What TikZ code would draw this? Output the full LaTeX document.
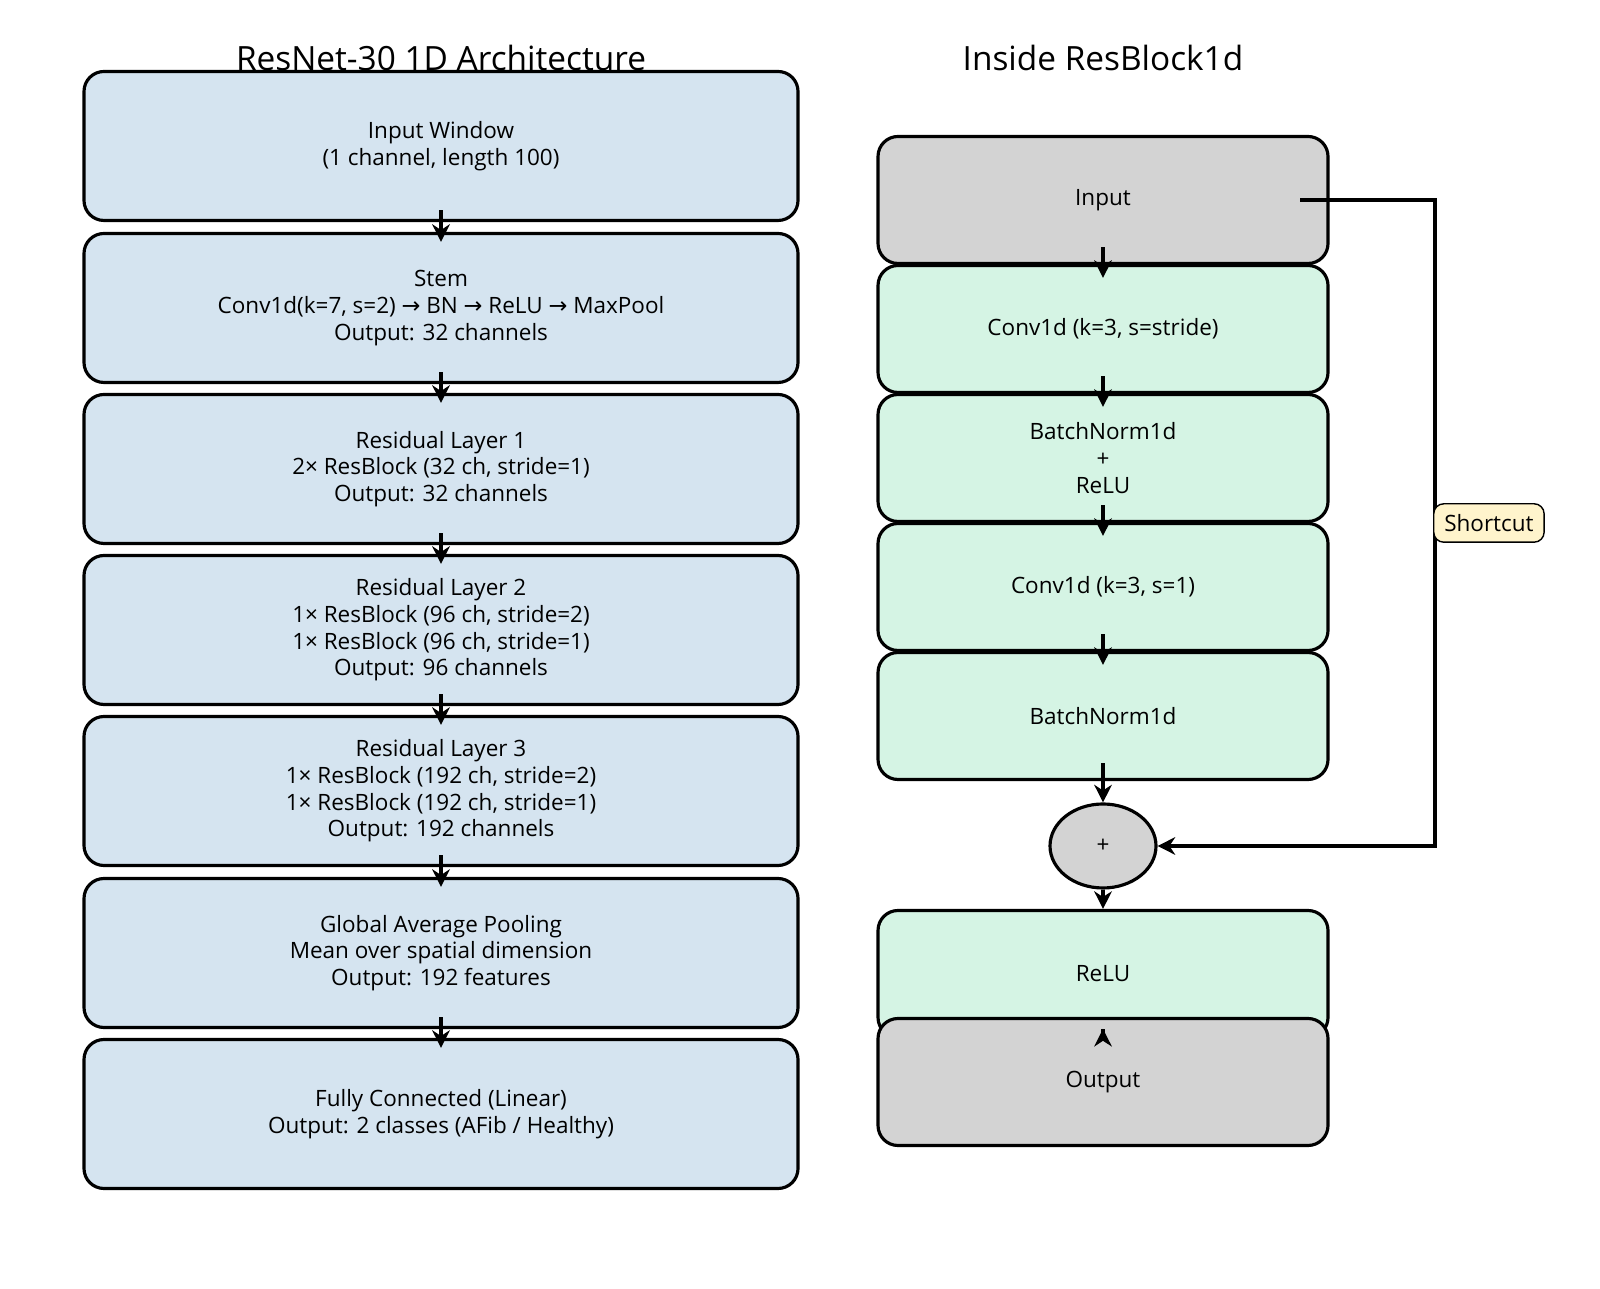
\documentclass[tikz,border=0pt]{standalone}
\usepackage{fontspec}
\setmainfont{Open Sans}
\newfontfamily\symfont{DejaVu Sans}
\usetikzlibrary{arrows.meta,shapes.geometric}
\newcommand{\ar}{{\symfont →}}
\tikzset{
  blk/.style={draw, line width=0.9pt, rounded corners=0.2cm, align=center,
    font=\fontsize{6.4}{7.6}\selectfont},
  arch/.style={blk, fill=archblue, minimum width=7.14cm, minimum height=1.49cm},
  inner/.style={blk, fill=resgreen, minimum width=4.5cm, minimum height=1.27cm},
  io/.style={inner, fill=iogray},
  flow/.style={-{Stealth[length=5pt,width=5pt]}, line width=0.9pt},
  ttl/.style={font=\fontsize{9.5}{11}\selectfont}
}
\definecolor{archblue}{HTML}{D5E4F0}
\definecolor{resgreen}{HTML}{D5F4E4}
\definecolor{iogray}{HTML}{D3D3D3}
\definecolor{notey}{HTML}{FFF4CC}
\begin{document}
\begin{tikzpicture}
  \useasboundingbox (0,0) rectangle (16,12.88);
  % titles
  \node[ttl] (t1) at (4.41,12.30) {ResNet-30 1D Architecture};
  \node[ttl] (t2) at (11.03,12.30) {Inside ResBlock1d};

  % left column
  \node[arch] (inp) at (4.41,11.42) {Input Window\\(1 channel, length 100)};
  \node[arch] (stem) at (4.41,9.80) {Stem\\Conv1d(k=7, s=2) \ar{} BN \ar{} ReLU \ar{} MaxPool\\Output: 32 channels};
  \node[arch] (l1) at (4.41,8.19) {Residual Layer 1\\2× ResBlock (32 ch, stride=1)\\Output: 32 channels};
  \node[arch] (l2) at (4.41,6.58) {Residual Layer 2\\1× ResBlock (96 ch, stride=2)\\1× ResBlock (96 ch, stride=1)\\Output: 96 channels};
  \node[arch] (l3) at (4.41,4.97) {Residual Layer 3\\1× ResBlock (192 ch, stride=2)\\1× ResBlock (192 ch, stride=1)\\Output: 192 channels};
  \node[arch] (gap) at (4.41,3.35) {Global Average Pooling\\Mean over spatial dimension\\Output: 192 features};
  \node[arch] (fc) at (4.41,1.74) {Fully Connected (Linear)\\Output: 2 classes (AFib / Healthy)};
  \foreach \a/\b in {inp/stem, stem/l1, l1/l2, l2/l3, l3/gap, gap/fc}
    \draw[flow] ([yshift=0.12cm]\a.south) -- ([yshift=-0.1cm]\b.north);

  % right column
  \node[io] (rin) at (11.03,10.88) {Input};
  \node[inner] (c1) at (11.03,9.59) {Conv1d (k=3, s=stride)};
  \node[inner] (bn1) at (11.03,8.30) {BatchNorm1d\\+\\ReLU};
  \node[inner] (c2) at (11.03,7.01) {Conv1d (k=3, s=1)};
  \node[inner] (bn2) at (11.03,5.72) {BatchNorm1d};
  \node[draw, line width=0.9pt, fill=iogray, ellipse, minimum width=1.06cm,
    minimum height=0.84cm, font=\fontsize{6.4}{7.6}\selectfont] (add) at (11.03,4.42) {+};
  \node[inner] (relu) at (11.03,3.14) {ReLU};
  \node[io] (rout) at (11.03,2.06) {Output};
  \foreach \a/\b in {rin/c1, c1/bn1, bn1/c2, c2/bn2}
    \draw[flow] ([yshift=0.18cm]\a.south) -- ([yshift=-0.14cm]\b.north);
  \draw[flow] ([yshift=0.18cm]bn2.south) -- (add.north);
  \draw[flow] (add.south) -- (relu.north);
  \draw[flow] ([yshift=0.1cm]relu.south) -- ([yshift=-0.12cm]rout.north);

  % shortcut
  \coordinate (sc) at (13.00,10.88);
  \draw[flow] (sc) -- (14.35,10.88) |- (add.east)
    node[pos=0.25, draw, fill=notey, rounded corners=0.1cm, line width=0.4pt,
      inner sep=3pt, font=\fontsize{6.4}{7.6}\selectfont, right=-0.02cm] (scl) {Shortcut};
\end{tikzpicture}
\end{document}
